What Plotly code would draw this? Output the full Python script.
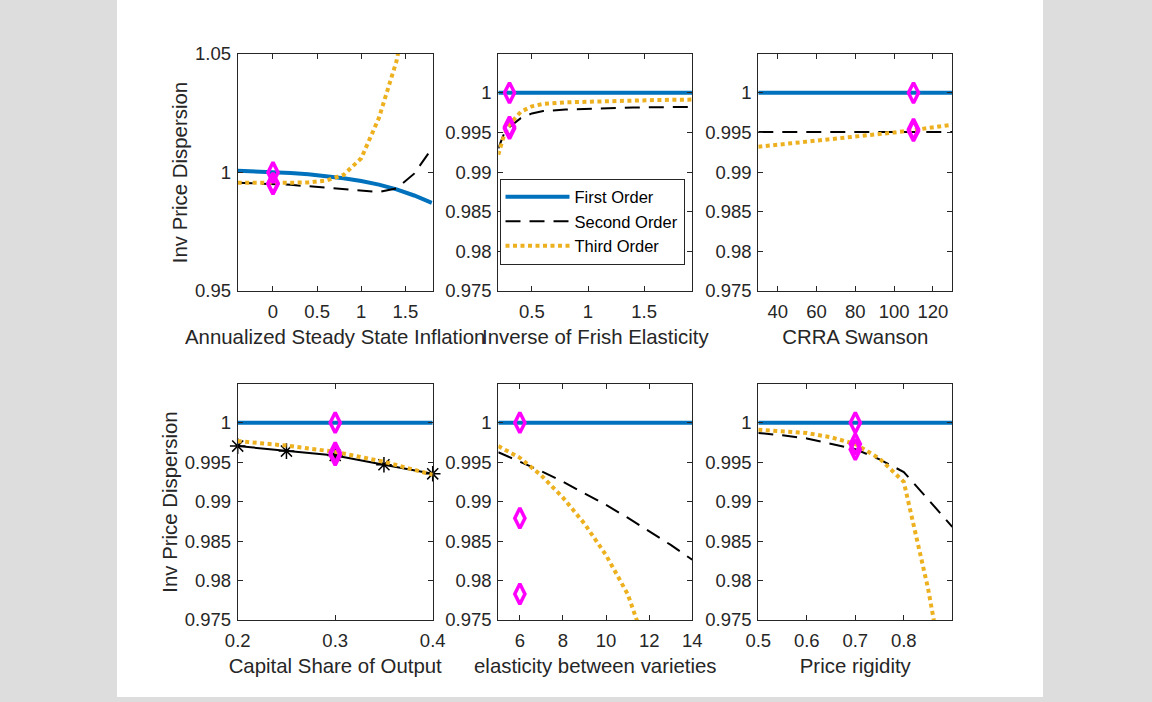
import plotly.graph_objects as go

# ---------------- data ----------------
# Panel 1: annualized steady state inflation
infl_x = [-0.4, -0.2, 0.0, 0.2, 0.4, 0.6, 0.8, 1.0, 1.2, 1.4, 1.6, 1.8]
infl_first = [1.0007, 1.0005, 1.0002, 0.9998, 0.9993, 0.9986, 0.9976, 0.9964, 0.9949, 0.9929, 0.9903, 0.9872]
infl_second = [0.9957, 0.9955, 0.9952, 0.9948, 0.9942, 0.9936, 0.9929, 0.9922, 0.9918, 0.9933, 0.9995, 1.0101]
infl_third = [0.9957, 0.9956, 0.9956, 0.9957, 0.9958, 0.9966, 0.9990, 1.0060, 1.0230, 1.0470, 1.0850, 1.1400]
infl_mark_x = [0.0, 0.0, 0.0]
infl_mark_y = [1.0, 0.9955, 0.9951]

# Panel 2: inverse of Frisch elasticity
frisch_x = [0.2, 0.25, 0.3, 0.4, 0.5, 0.6, 0.8, 1.0, 1.2, 1.4, 1.6, 1.8, 1.93]
frisch_first = [1.0] * len(frisch_x)
frisch_second = [0.9930, 0.9948, 0.9957, 0.9968, 0.9974, 0.9977, 0.9979, 0.99800, 0.99808, 0.99814, 0.99818, 0.99821, 0.99823]
frisch_third = [0.9922, 0.9946, 0.9960, 0.9976, 0.9983, 0.9986, 0.99880, 0.99890, 0.99898, 0.99904, 0.99909, 0.99913, 0.99915]
frisch_mark_x = [0.3, 0.3, 0.3]
frisch_mark_y = [1.0, 0.9957, 0.9955]

# Panel 3: CRRA (Swanson)
crra_x = [30, 40, 50, 60, 70, 80, 90, 100, 110, 120, 130]
crra_first = [1.0] * len(crra_x)
crra_second = [0.99506] * len(crra_x)
crra_third = [0.9932, 0.99345, 0.9937, 0.99395, 0.9942, 0.9944, 0.9947, 0.9950, 0.9953, 0.99565, 0.99598]
crra_mark_x = [110, 110, 110]
crra_mark_y = [1.0, 0.9954, 0.9952]

# Panel 4: capital share of output
alpha_x = [0.2, 0.25, 0.3, 0.35, 0.4]
alpha_first = [1.0] * len(alpha_x)
alpha_second = [0.99703, 0.99640, 0.99585, 0.99467, 0.99352]
alpha_third = [0.99767, 0.99710, 0.99630, 0.99505, 0.99340]
alpha_mark_x = [0.3, 0.3, 0.3]
alpha_mark_y = [1.0, 0.9962, 0.9959]

# Panel 5: elasticity between varieties
theta_x = [5, 6, 7, 8, 9, 10, 11, 12, 13, 14]
theta_first = [1.0] * len(theta_x)
theta_second = [0.99626, 0.99510, 0.99385, 0.99251, 0.99109, 0.98958, 0.98796, 0.98628, 0.98451, 0.98263]
theta_third = [0.99703, 0.99555, 0.99330, 0.99050, 0.98720, 0.98320, 0.97830, 0.97050, 0.96000, 0.94800]
theta_mark_x = [6, 6, 6]
theta_mark_y = [1.0, 0.9879, 0.9783]

# Panel 6: price rigidity
calvo_x = [0.5, 0.55, 0.6, 0.65, 0.7, 0.75, 0.8, 0.85, 0.9]
calvo_first = [1.0] * len(calvo_x)
calvo_second = [0.99870, 0.99840, 0.99800, 0.99735, 0.99665, 0.99535, 0.99375, 0.99030, 0.98680]
calvo_third = [0.99911, 0.99895, 0.99869, 0.99815, 0.99730, 0.99545, 0.99250, 0.97900, 0.96200]
calvo_mark_x = [0.7, 0.7, 0.7]
calvo_mark_y = [1.0, 0.9973, 0.9966]

x_titles = ["Annualized Steady State Inflation", "Inverse of Frish Elasticity", "CRRA Swanson",
            "Capital Share of Output", "elasticity between varieties", "Price rigidity"]
y_title = "Inv Price Dispersion"
series_names = ["First Order", "Second Order", "Third Order"]

# ---------------- styling ----------------
W, H = 1152, 702
M = 20  # fixed outer margin; layout positions below are in page pixels
PW, PH = W - 2 * M, H - 2 * M

BLUE = "#0072BD"
ORANGE = "#EDB120"
MAGENTA = "#FF00FF"
INK = "#262626"
FONT = "Liberation Sans, Arial, sans-serif"


def fx(px):
    return (px - M) / PW


def fy(py):
    return 1 - (py - M) / PH


cols_px = [(237.7, 432.7), (498.3, 692.3), (758.3, 952.3)]
rows_px = [(54, 291), (384, 620)]

fig = go.Figure()

panels = [
    (infl_x, infl_first, infl_second, infl_third, infl_mark_x, infl_mark_y),
    (frisch_x, frisch_first, frisch_second, frisch_third, frisch_mark_x, frisch_mark_y),
    (crra_x, crra_first, crra_second, crra_third, crra_mark_x, crra_mark_y),
    (alpha_x, alpha_first, alpha_second, alpha_third, alpha_mark_x, alpha_mark_y),
    (theta_x, theta_first, theta_second, theta_third, theta_mark_x, theta_mark_y),
    (calvo_x, calvo_first, calvo_second, calvo_third, calvo_mark_x, calvo_mark_y),
]

x_ranges = [[-0.4, 1.81], [0.2, 1.93], [30, 130], [0.2, 0.4], [5, 14], [0.5, 0.9]]
x_ticks = [[0, 0.5, 1, 1.5], [0.5, 1, 1.5], [40, 60, 80, 100, 120],
           [0.2, 0.3, 0.4], [6, 8, 10, 12, 14], [0.5, 0.6, 0.7, 0.8]]
x_ticktext = [["0", "0.5", "1", "1.5"], ["0.5", "1", "1.5"], ["40", "60", "80", "100", "120"],
              ["0.2", "0.3", "0.4"], ["6", "8", "10", "12", "14"], ["0.5", "0.6", "0.7", "0.8"]]

y_std_ticks = [0.975, 0.98, 0.985, 0.99, 0.995, 1.0]
y_std_text = ["0.975", "0.98", "0.985", "0.99", "0.995", "1"]

dash_black = "15px,9px"
dot_orange = "4px,3.5px"

for i, (xs, f1, f2, f3, mx, my) in enumerate(panels):
    ax = "" if i == 0 else str(i + 1)
    xref, yref = "x" + ax, "y" + ax
    in_legend = (i == 1)
    fig.add_trace(go.Scatter(x=xs, y=f1, mode="lines", name=series_names[0],
                             line=dict(color=BLUE, width=4), xaxis=xref, yaxis=yref,
                             showlegend=in_legend))
    if i == 3:
        fig.add_trace(go.Scatter(x=xs, y=f2, mode="lines+markers", name=series_names[1],
                                 line=dict(color="black", width=2),
                                 marker=dict(symbol="asterisk-open", size=13,
                                             line=dict(color="black", width=1.5)),
                                 cliponaxis=False, xaxis=xref, yaxis=yref, showlegend=False))
    else:
        fig.add_trace(go.Scatter(x=xs, y=f2, mode="lines", name=series_names[1],
                                 line=dict(color="black", width=2, dash=dash_black),
                                 xaxis=xref, yaxis=yref, showlegend=in_legend))
    fig.add_trace(go.Scatter(x=xs, y=f3, mode="lines", name=series_names[2],
                             line=dict(color=ORANGE, width=4, dash=dot_orange),
                             xaxis=xref, yaxis=yref, showlegend=in_legend))
    fig.add_trace(go.Scatter(x=mx, y=my, mode="markers", name="data",
                             marker=dict(symbol="diamond-tall-open", size=14.5, color=MAGENTA,
                                         line=dict(color=MAGENTA, width=3.5)),
                             cliponaxis=False, xaxis=xref, yaxis=yref, showlegend=False))

TICK_SIZE = 18.5
TITLE_SIZE = 20.4

layout_axes = {}
for i in range(6):
    r, c = divmod(i, 3)
    x0, x1 = cols_px[c]
    y0, y1 = rows_px[r]
    key = "" if i == 0 else str(i + 1)
    common = dict(showline=True, linecolor=INK, linewidth=1, mirror="ticks",
                  ticks="inside", ticklen=5, tickwidth=1, tickcolor=INK,
                  showgrid=False, zeroline=False,
                  tickfont=dict(family=FONT, size=TICK_SIZE, color=INK))
    layout_axes["xaxis" + key] = dict(
        common, domain=[fx(x0), fx(x1)], range=x_ranges[i],
        tickvals=x_ticks[i], ticktext=x_ticktext[i],
        anchor="y" + key, ticklabelstandoff=4,
        title=dict(text=x_titles[i], font=dict(family=FONT, size=TITLE_SIZE, color=INK), standoff=8),
    )
    if i == 0:
        ytv, ytt, yr = [0.95, 1.0, 1.05], ["0.95", "1", "1.05"], [0.95, 1.05]
    else:
        ytv, ytt, yr = y_std_ticks, y_std_text, [0.975, 1.0049]
    ytitle = dict(text=y_title, font=dict(family=FONT, size=TITLE_SIZE, color=INK), standoff=1) if c == 0 else None
    layout_axes["yaxis" + key] = dict(
        common, domain=[fy(y1), fy(y0)], range=yr,
        tickvals=ytv, ticktext=ytt, anchor="x" + key, ticklabelstandoff=2,
        title=ytitle,
    )

fig.update_layout(
    width=W, height=H,
    margin=dict(l=M, r=M, t=M, b=M, pad=0, autoexpand=False),
    paper_bgcolor="#DDDDDD",
    plot_bgcolor="white",
    font=dict(family=FONT, color=INK),
    legend=dict(
        x=fx(499.5), y=fy(178.5), xanchor="left", yanchor="top",
        bgcolor="white", bordercolor=INK, borderwidth=1,
        font=dict(family=FONT, size=16.5, color="black"),
        itemwidth=64, tracegroupgap=0,
    ),
    shapes=[dict(type="rect", xref="paper", yref="paper", layer="below",
                 x0=fx(117), x1=fx(1043), y0=fy(697), y1=fy(0),
                 fillcolor="white", line=dict(width=0))],
    **layout_axes,
)

fig.write_html("out.html")
